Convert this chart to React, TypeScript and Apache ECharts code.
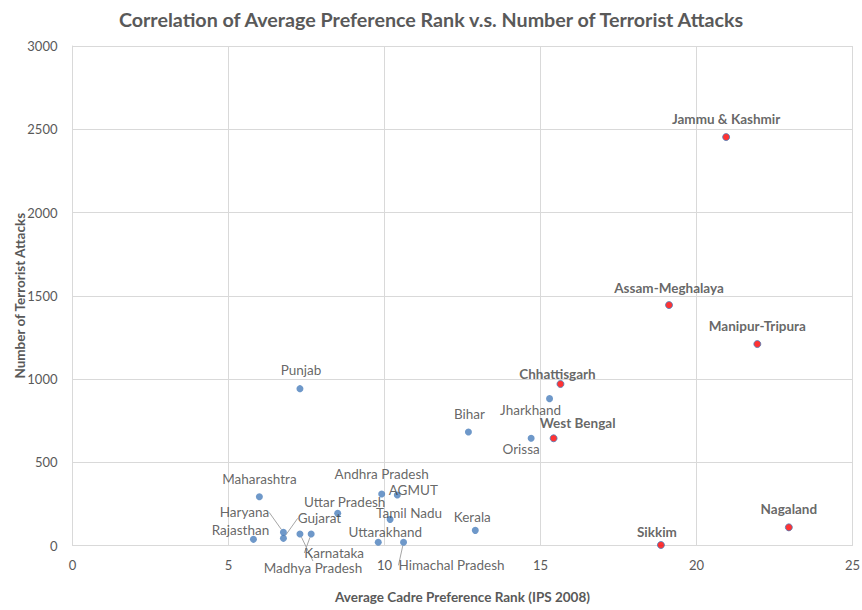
import React, { useEffect, useRef } from "react";
import * as echarts from "echarts";

const states = [
  "Jammu & Kashmir", "Assam-Meghalaya", "Manipur-Tripura", "Chhattisgarh", "West Bengal",
  "Nagaland", "Sikkim", "Punjab", "Bihar", "Jharkhand", "Orissa", "Maharashtra",
  "Andhra Pradesh", "AGMUT", "Uttar Pradesh", "Tamil Nadu", "Kerala", "Haryana",
  "Gujarat", "Rajasthan", "Madhya Pradesh", "Karnataka", "Uttarakhand", "Himachal Pradesh",
];
const preferenceRank = [
  20.95, 19.12, 21.95, 15.64, 15.42, 22.96, 18.86, 7.29, 12.69, 15.29, 14.70, 5.99,
  9.91, 10.41, 8.50, 10.18, 12.91, 6.76, 6.76, 5.80, 7.29, 7.65, 9.80, 10.61,
];
const terroristAttacks = [
  2453, 1444, 1210, 970, 644, 109, 3, 942, 682, 882, 644, 293,
  309, 303, 193, 157, 91, 79, 43, 37, 69, 69, 19, 19,
];
const highlightedStates = [
  "Jammu & Kashmir", "Assam-Meghalaya", "Manipur-Tripura", "Chhattisgarh",
  "West Bengal", "Nagaland", "Sikkim",
];
const leaderLineStates = ["Haryana", "Gujarat", "Madhya Pradesh", "Karnataka", "Himachal Pradesh"];
const xTicks = [0, 5, 10, 15, 20, 25];
const yTicks = [0, 500, 1000, 1500, 2000, 2500, 3000];

// label centre offsets from the marker (layout only)
const labelShift: Record<string, [number, number]> = {
  "Jammu & Kashmir": [0, -18],
  "Assam-Meghalaya": [0, -17],
  "Manipur-Tripura": [0, -18],
  "Chhattisgarh": [-3, -10],
  "West Bengal": [24, -15],
  "Nagaland": [0, -18],
  "Sikkim": [-4, -13],
  "Punjab": [1, -19],
  "Bihar": [1, -18],
  "Jharkhand": [-19, 11],
  "Orissa": [-10, 11],
  "Maharashtra": [0, -18],
  "Andhra Pradesh": [0, -20],
  "AGMUT": [16, -5],
  "Uttar Pradesh": [7, -11],
  "Tamil Nadu": [19, -6],
  "Kerala": [-3, -13],
  "Haryana": [-39, -20],
  "Gujarat": [36, -20],
  "Rajasthan": [-13, -9],
  "Madhya Pradesh": [13, 34],
  "Karnataka": [23, 19],
  "Uttarakhand": [7, -10],
  "Himachal Pradesh": [48, 23],
};

const FONT = "Lato";
const BLUE = "#4a7ebb";

export default function App() {
  const ref = useRef<HTMLDivElement>(null);
  useEffect(() => {
    document.body.style.margin = "0";
    const chart = echarts.init(ref.current!, null, { renderer: "svg" });
    const data = states.map((name, i) => {
      const hi = highlightedStates.includes(name);
      const lead = leaderLineStates.includes(name);
      return {
        name,
        value: [preferenceRank[i], terroristAttacks[i]],
        itemStyle: hi
          ? { color: "#ff0000", borderColor: BLUE, borderWidth: 1 }
          : { color: BLUE },
        label: {
          fontWeight: hi ? "bold" : "normal",
        },
        labelLine: { show: lead, lineStyle: { color: "#a6a6a6", width: 1 } },
      };
    });
    chart.setOption({
      animation: false,
      title: {
        text: "Correlation of Average Preference Rank v.s. Number of Terrorist Attacks",
        left: "center",
        top: 4,
        textStyle: { fontFamily: FONT, fontSize: 19.7, fontWeight: "bold", color: "#595959" },
      },
      grid: { left: 72.5, right: 9.5, top: 46, bottom: 64.5, outerBoundsMode: "none", containLabel: false },
      xAxis: {
        type: "value",
        min: xTicks[0],
        max: xTicks[xTicks.length - 1],
        interval: 5,
        name: "Average Cadre Preference Rank (IPS 2008)",
        nameLocation: "middle",
        nameGap: 44,
        nameMoveOverlap: false,
        nameTextStyle: { fontFamily: FONT, fontSize: 13.5, fontWeight: "bold", color: "#595959" },
        axisLine: { show: true, lineStyle: { color: "#d9d9d9", width: 1 } },
        axisTick: { show: false },
        axisLabel: { fontFamily: FONT, fontSize: 13, color: "#595959", margin: 13 },
        splitLine: { show: true, lineStyle: { color: "#d9d9d9", width: 1 } },
      },
      yAxis: {
        type: "value",
        min: yTicks[0],
        max: yTicks[yTicks.length - 1],
        interval: 500,
        name: "Number of Terrorist Attacks",
        nameLocation: "middle",
        nameGap: 46,
        nameMoveOverlap: false,
        nameTextStyle: { fontFamily: FONT, fontSize: 13.5, fontWeight: "bold", color: "#595959" },
        axisLine: { show: true, lineStyle: { color: "#d9d9d9", width: 1 } },
        axisTick: { show: false },
        axisLabel: {
          fontFamily: FONT,
          fontSize: 13,
          color: "#595959",
          margin: 15,
          formatter: (v: number) => String(v),
        },
        splitLine: { show: true, lineStyle: { color: "#d9d9d9", width: 1 } },
      },
      series: [
        {
          type: "scatter",
          symbol: "circle",
          symbolSize: 7,
          data,
          label: {
            show: true,
            position: "inside",
            formatter: "{b}",
            fontFamily: FONT,
            fontSize: 13.5,
            lineHeight: 13,
            color: "#404040",
          },
          labelLayout: (p: any) => {
            const s = labelShift[states[p.dataIndex]] || [0, -18];
            return { dx: s[0], dy: s[1] };
          },
          labelLine: { show: false },
        },
      ],
    });
    return () => chart.dispose();
  }, []);
  return <div ref={ref} style={{ width: 862, height: 610 }} />;
}
